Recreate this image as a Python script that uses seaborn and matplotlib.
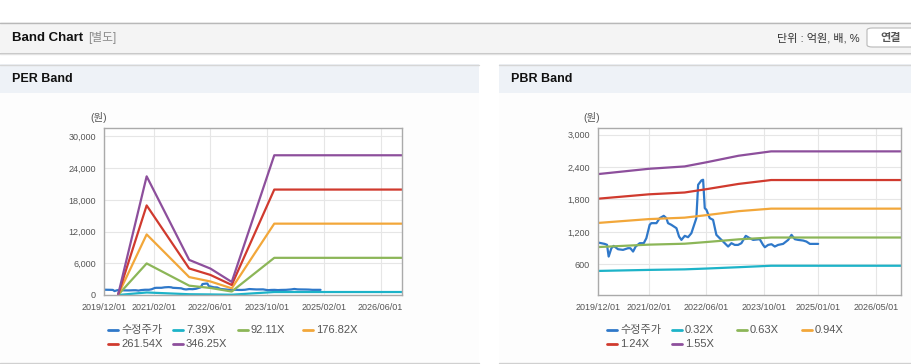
import matplotlib
matplotlib.use('Agg')
import matplotlib.pyplot as plt
from matplotlib.patches import Rectangle, FancyBboxPatch
from matplotlib.lines import Line2D
import seaborn as sns
import pandas as pd

W, H = 912, 364

# adjusted share price (수정주가), shared by both charts
price_dates = ['2019-12-01', '2020-01-26', '2020-02-15', '2020-02-29', '2020-03-23', '2020-04-11',
               '2020-05-18', '2020-06-29', '2020-08-10', '2020-08-30', '2020-09-22', '2020-10-14',
               '2020-11-17', '2020-12-21', '2021-01-12', '2021-02-09', '2021-02-23', '2021-04-07',
               '2021-05-05', '2021-06-08', '2021-06-30', '2021-07-14', '2021-08-11', '2021-09-23',
               '2021-10-15', '2021-11-04', '2021-12-02', '2021-12-30', '2022-01-27', '2022-02-24',
               '2022-03-10', '2022-03-25', '2022-04-22', '2022-05-06', '2022-05-20', '2022-06-03',
               '2022-07-01', '2022-07-29', '2022-08-26', '2022-09-23', '2022-10-22', '2022-11-19',
               '2022-12-03', '2022-12-31', '2023-01-28', '2023-02-25', '2023-03-25', '2023-05-01',
               '2023-06-04', '2023-07-02', '2023-08-27', '2023-09-24', '2023-10-09', '2023-11-06',
               '2023-12-04', '2024-01-01', '2024-01-29', '2024-03-11', '2024-04-23', '2024-05-21',
               '2024-06-18', '2024-07-16', '2024-08-27', '2024-09-24', '2024-10-23', '2025-01-01']
price_values = [1002, 977, 960, 742, 897, 940,
                878, 866, 897, 897, 835, 928,
                990, 990, 1082, 1330, 1361, 1361,
                1454, 1497, 1454, 1361, 1330, 1268,
                1113, 1051, 1126, 1101, 1175, 1361,
                1454, 2072, 2153, 2165, 1639, 1608,
                1454, 1423, 1144, 1082, 1020, 958,
                928, 990, 958, 958, 990, 1126,
                1082, 1051, 1064, 958, 915, 958,
                971, 928, 958, 977, 1051, 1144,
                1064, 1051, 1039, 1020, 977, 977]

# PER band
per_dates = ['2020-04-01', '2020-12-01', '2021-12-01', '2022-06-01', '2022-12-01', '2023-12-01', '2026-12-01']
per_labels = ['7.39X', '92.11X', '176.82X', '261.54X', '346.25X']
per_band_1 = [3, 479, 142, 107, 53, 564, 564]
per_band_2 = [40, 5972, 1766, 1330, 657, 7033, 7033]
per_band_3 = [77, 11465, 3390, 2560, 1260, 13500, 13500]
per_band_4 = [110, 16950, 5020, 3800, 1900, 19950, 19950]
per_band_5 = [150, 22450, 6640, 5000, 2470, 26440, 26440]
per_xticks = ['2019-12-01', '2021-02-01', '2022-06-01', '2023-10-01', '2025-02-01', '2026-06-01']
per_yticks = [0, 6000, 12000, 18000, 24000, 30000]

# PBR band
pbr_dates = ['2019-12-01', '2021-02-01', '2021-12-01', '2022-06-01', '2023-03-01', '2023-12-01', '2026-12-01']
pbr_labels = ['0.32X', '0.63X', '0.94X', '1.24X', '1.55X']
pbr_band_1 = [476, 495, 505, 520, 545, 572, 572]
pbr_band_2 = [918, 963, 980, 1011, 1061, 1095, 1095]
pbr_band_3 = [1365, 1436, 1463, 1509, 1583, 1630, 1630]
pbr_band_4 = [1814, 1895, 1929, 1990, 2088, 2160, 2160]
pbr_band_5 = [2270, 2368, 2412, 2488, 2610, 2691, 2691]
pbr_xticks = ['2019-12-01', '2021-02-01', '2022-06-01', '2023-10-01', '2025-01-01', '2026-05-01']
pbr_yticks = [600, 1200, 1800, 2400, 3000]

price_label = '수정주가'
colors = ['#2f78c9', '#1db3c8', '#8cb658', '#f2a73a', '#d03a2e', '#8d4f9c']

sns.set_style('white')
plt.rcParams['font.family'] = ['Liberation Sans', 'Noto Sans CJK KR']

fig = plt.figure(figsize=(W / 100, H / 100), dpi=100)


def px_rect(x, y, w, h, **kw):
    # rectangle given in pixels from the top-left corner, kept behind the axes
    fig.patches.append(Rectangle((x / W, 1 - (y + h) / H), w / W, h / H,
                                 transform=fig.transFigure, zorder=-10, **kw))


def px_text(x, y, s, **kw):
    fig.text(x / W, 1 - y / H, s, va='center', **kw)


def px_line(x0, x1, y, color, lw=1.0):
    fig.add_artist(Line2D([x0 / W, x1 / W], [1 - y / H, 1 - y / H],
                          transform=fig.transFigure, color=color, lw=lw, zorder=-5))


# header bar
px_rect(0, 22, W, 30, fc='#f4f4f4', ec='none')
px_line(0, W, 22.5, '#b8b8b8')
px_line(0, W, 52.5, '#c4c4c4')
px_line(0, W, 53.5, '#e2e2e2')
px_text(12, 38, 'Band Chart', fontsize=9.5, fontweight='bold', color='#111')
px_text(88, 38, '[별도]', fontsize=8.5, color='#8a8a8a')
px_text(860, 38, '단위 : 억원, 배, %', fontsize=8, color='#333', ha='right')
fig.patches.append(FancyBboxPatch((867 / W, 1 - 47 / H), 50 / W, 19 / H,
                                  boxstyle='round,pad=0,rounding_size=0.006',
                                  transform=fig.transFigure, fc='white', ec='#b8b8b8', lw=0.8))
px_text(891, 38, '연결', fontsize=8, color='#555', ha='center', fontweight='bold')

# panels
for x0, x1, title in [(0, 479, 'PER Band'), (499, W, 'PBR Band')]:
    px_rect(x0, 64, x1 - x0, 29, fc='#eef2f7', ec='none')
    px_rect(x0, 93, x1 - x0, 269, fc='#fdfdfd', ec='none')
    px_line(x0, x1, 64.5, '#d6d6d6')
    px_line(x0, x1, 362.5, '#d0d0d0')
    px_text(x0 + 12, 79, title, fontsize=9, fontweight='bold', color='#111')


def draw_band(ax, band_dates, bands, labels, xticks, yticks, ylim):
    '''
    Draw the price line and the band lines on one axes.
    '''
    price_df = pd.DataFrame({'date': pd.to_datetime(price_dates), 'value': price_values})
    band_df = pd.concat([pd.DataFrame({'date': pd.to_datetime(band_dates), 'value': vals, 'band': lab})
                         for vals, lab in zip(bands, labels)])

    sns.lineplot(data=price_df, x='date', y='value', color=colors[0], lw=1.6, ax=ax)
    sns.lineplot(data=band_df, x='date', y='value', hue='band', hue_order=labels,
                 palette=dict(zip(labels, colors[1:])), lw=1.6, legend=False, ax=ax)

    ax.set_xlim(pd.Timestamp('2019-12-01'), pd.Timestamp('2026-12-01'))
    ax.set_ylim(*ylim)
    ax.set_xticks(pd.to_datetime(xticks))
    ax.set_xticklabels([t.replace('-', '/') for t in xticks])
    ax.set_yticks(yticks)
    ax.set_yticklabels([f'{v:,}' for v in yticks])
    ax.set_xlabel('')
    ax.set_ylabel('')
    ax.set_facecolor('white')
    ax.grid(True, color='#e6e6e6', lw=0.8)
    ax.set_axisbelow(True)
    for sp in ax.spines.values():
        sp.set_color('#aaaaaa')
        sp.set_linewidth(1)
    ax.tick_params(axis='both', labelsize=6.5, labelcolor='#555', color='#aaaaaa',
                   length=4, width=0.8, pad=2, direction='out')


ax1 = fig.add_axes([104 / W, 1 - 295 / H, 298 / W, 167 / H])
draw_band(ax1, per_dates, [per_band_1, per_band_2, per_band_3, per_band_4, per_band_5],
          per_labels, per_xticks, per_yticks, (0, 31600))

ax2 = fig.add_axes([598 / W, 1 - 295 / H, 303 / W, 167 / H])
draw_band(ax2, pbr_dates, [pbr_band_1, pbr_band_2, pbr_band_3, pbr_band_4, pbr_band_5],
          pbr_labels, pbr_xticks, pbr_yticks, (30, 3124))

px_text(99, 118, '(원)', fontsize=7.5, color='#555', ha='center')
px_text(592, 118, '(원)', fontsize=7.5, color='#555', ha='center')

# legends, laid out in fixed 4 columns
for x_start, labels in [(108, per_labels), (607, pbr_labels)]:
    for i, (lab, col) in enumerate(zip([price_label] + labels, colors)):
        x = x_start + (i % 4) * 65
        y = 330 + (i // 4) * 14
        px_line(x, x + 10, y, col, lw=2)
        px_text(x + 13, y, lab, fontsize=8, color='#555')

fig.savefig('out.png', dpi=100)
